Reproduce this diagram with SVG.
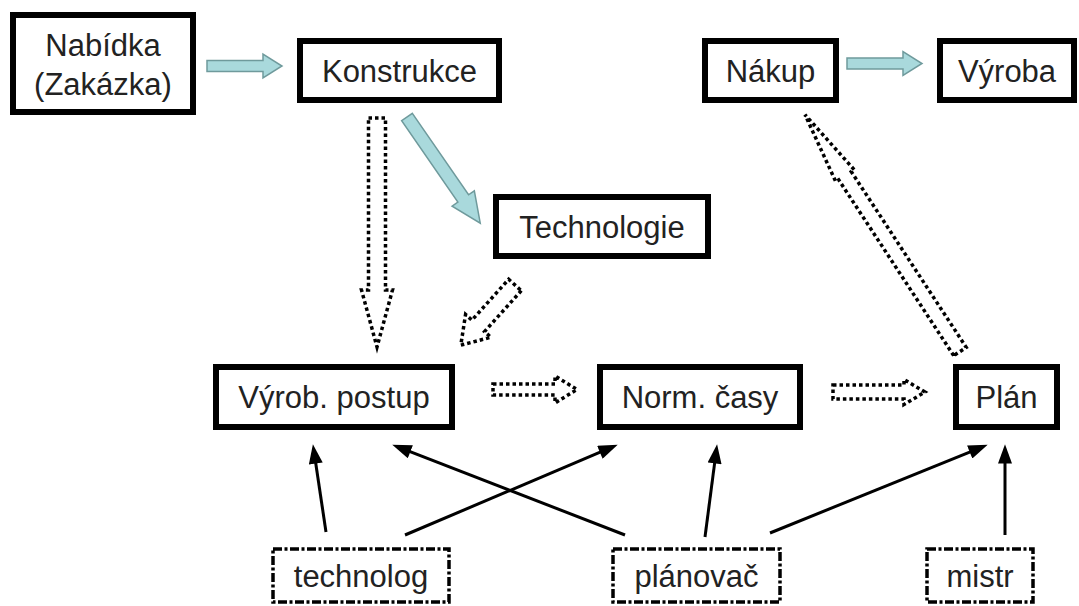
<svg xmlns="http://www.w3.org/2000/svg" width="1079" height="606" viewBox="0 0 1079 606">
  <style>
    .box { fill: #ffffff; stroke: #000000; stroke-width: 6; }
    .role { fill: #ffffff; stroke: #000000; stroke-width: 3.5; stroke-dasharray: 9 2.5 3 2.5; }
    .lbl { font-family: "Liberation Sans", Arial, sans-serif; font-size: 31px; fill: #222222; text-anchor: middle; }
    .flow { fill: #a9d9dc; stroke: #6f9a9c; stroke-width: 1.5; stroke-linejoin: miter; }
    .dots { fill: none; stroke: #000000; stroke-width: 3.5; stroke-dasharray: 3.5 3; stroke-linejoin: miter; }
    .link { fill: none; stroke: #000000; stroke-width: 3; }
  </style>
  <defs>
    <marker id="head" markerUnits="userSpaceOnUse" markerWidth="20" markerHeight="14" viewBox="0 0 18 13" refX="8" refY="6.5" orient="auto">
      <path d="M0,0 L18,6.5 L0,13 z" fill="#000000"/>
    </marker>
  </defs>

  <rect width="1079" height="606" fill="#ffffff"/>

  <!-- connectors -->
  <g id="connectors">
    <!-- solid block arrows -->
    <polygon class="flow" transform="translate(207,66)" points="0,-5.5 56,-5.5 56,-12 75,0 56,12 56,5.5 0,5.5"/>
    <polygon class="flow" transform="translate(847,63.5)" points="0,-5.5 56,-5.5 56,-12 75,0 56,12 56,5.5 0,5.5"/>
    <polygon class="flow" transform="translate(407,117) rotate(55.4)" points="0,-6.5 99,-6.5 99,-13.5 129,0 99,13.5 99,6.5 0,6.5"/>

    <!-- dotted hollow arrows -->
    <polygon class="dots" points="368.5,118 385.5,118 385.5,290 392.5,290 377,347 361.5,290 368.5,290"/>
    <polygon class="dots" transform="translate(515,285) rotate(132)" points="0,-8.5 55,-8.5 55,-17 81,0 55,17 55,8.5 0,8.5"/>
    <polygon class="dots" transform="translate(960,351.5) rotate(-123.2)" points="0,-7.5 210,-7.5 210,-11 283,0 210,11 210,7.5 0,7.5"/>
    <polygon class="dots" points="493,384 555,384 555,376 577,389.5 555,403 555,395 493,395"/>
    <polygon class="dots" points="833,385 904,385 904,379.5 925,392 904,404.5 904,399 833,399"/>

    <!-- role assignments -->
    <line class="link" x1="326" y1="532" x2="314.5" y2="455" marker-end="url(#head)"/>
    <line class="link" x1="405" y1="535" x2="607.8" y2="448.9" marker-end="url(#head)"/>
    <line class="link" x1="625" y1="535" x2="402.3" y2="448.6" marker-end="url(#head)"/>
    <line class="link" x1="705" y1="537" x2="715.7" y2="454.9" marker-end="url(#head)"/>
    <line class="link" x1="770" y1="533" x2="977.7" y2="448.8" marker-end="url(#head)"/>
    <line class="link" x1="1005" y1="535" x2="1005" y2="455" marker-end="url(#head)"/>
  </g>

  <!-- process steps -->
  <g id="nabidka">
    <rect class="box" x="13" y="15" width="180" height="97"/>
    <text class="lbl" x="103" y="55.5">Nabídka</text>
    <text class="lbl" x="103" y="94.5">(Zakázka)</text>
  </g>
  <g id="konstrukce">
    <rect class="box" x="300" y="41" width="199" height="59"/>
    <text class="lbl" x="399.5" y="81.5">Konstrukce</text>
  </g>
  <g id="nakup">
    <rect class="box" x="705" y="41" width="131" height="59"/>
    <text class="lbl" x="770.5" y="81.5">Nákup</text>
  </g>
  <g id="vyroba">
    <rect class="box" x="940" y="41" width="134" height="59"/>
    <text class="lbl" x="1007" y="81.5">Výroba</text>
  </g>
  <g id="technologie">
    <rect class="box" x="496" y="197" width="212" height="59"/>
    <text class="lbl" x="602" y="237.5">Technologie</text>
  </g>
  <g id="vyrob-postup">
    <rect class="box" x="216" y="367" width="236" height="60"/>
    <text class="lbl" x="334" y="408">Výrob. postup</text>
  </g>
  <g id="norm-casy">
    <rect class="box" x="600" y="367" width="200" height="60"/>
    <text class="lbl" x="700" y="408">Norm. časy</text>
  </g>
  <g id="plan">
    <rect class="box" x="956" y="367" width="101" height="60"/>
    <text class="lbl" x="1006.5" y="408">Plán</text>
  </g>

  <!-- roles -->
  <g id="technolog">
    <rect class="role" x="273" y="549" width="176" height="53"/>
    <text class="lbl" x="361" y="587">technolog</text>
  </g>
  <g id="planovac">
    <rect class="role" x="613" y="549" width="167" height="53"/>
    <text class="lbl" x="696.5" y="587">plánovač</text>
  </g>
  <g id="mistr">
    <rect class="role" x="927" y="549" width="106" height="53"/>
    <text class="lbl" x="980" y="587">mistr</text>
  </g>
</svg>
